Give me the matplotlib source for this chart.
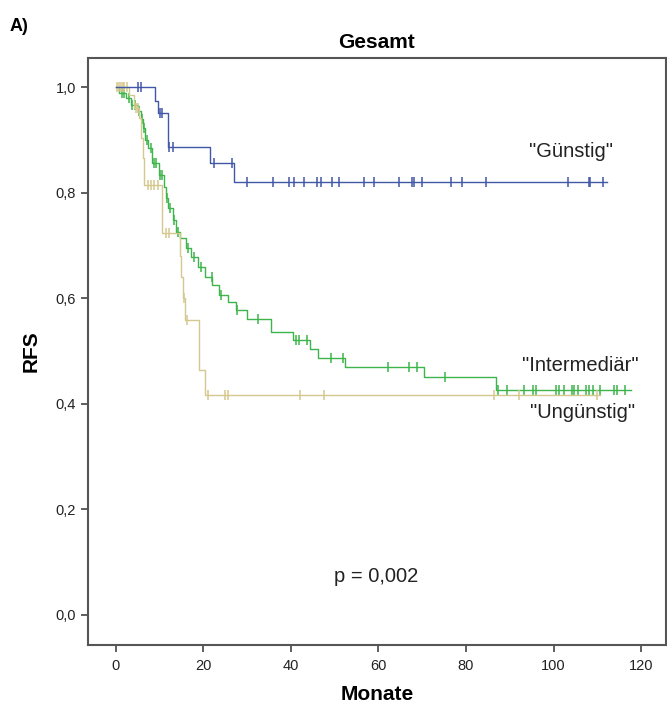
import numpy as np
import matplotlib
matplotlib.use("Agg")
import matplotlib.pyplot as plt
from matplotlib.ticker import FuncFormatter

# ---- data (months, survival) ----
blue_t = [0, 8.9, 9.6, 11.9, 21.5, 27.0]
blue_s = [1.0, 0.973, 0.951, 0.886, 0.856, 0.820]
blue_end = 112.3
blue_cens = [5.0, 5.7, 10.1, 10.6, 12.3, 13.0, 22.4, 26.5, 30.0, 36.0, 39.5, 40.7,
             42.9, 46.0, 46.8, 49.3, 51.0, 56.7, 59.1, 64.6, 67.6, 68.1, 70.0,
             76.5, 79.0, 84.5, 103.2, 108.0, 108.4, 111.2]

green_t = [0, 0.7, 2.3, 3.4, 5.0, 5.7, 6.2, 6.8, 7.4, 8.4, 9.8, 11.0, 11.4, 12.0,
           13.0, 13.7, 14.8, 16.0, 17.1, 18.9, 20.5, 22.1, 23.5, 25.6, 27.4, 30.0,
           35.4, 40.4, 44.3, 46.1, 52.3, 70.5, 86.8]
green_s = [1.0, 0.989, 0.979, 0.966, 0.955, 0.940, 0.922, 0.900, 0.884, 0.856, 0.833,
           0.811, 0.790, 0.771, 0.748, 0.725, 0.714, 0.695, 0.678, 0.659, 0.640, 0.625,
           0.606, 0.593, 0.578, 0.561, 0.536, 0.521, 0.504, 0.487, 0.470, 0.451, 0.426]
green_end = 117.6
green_cens = [1.5, 2.0, 3.0, 3.8, 4.5, 5.3, 6.0, 6.5, 7.2, 8.0, 8.8, 9.3, 10.2, 10.6,
              11.8, 12.5, 13.3, 14.2, 16.5, 18.0, 19.5, 22.0, 24.0, 27.8, 32.6, 41.1,
              41.8, 43.8, 49.1, 52.0, 62.1, 66.9, 68.9, 75.3, 87.4, 89.4, 93.2, 95.4,
              96.1, 100.5, 101.2, 102.3, 104.1, 104.6, 105.5, 107.3, 108.0, 109.1,
              110.5, 113.7, 114.6, 116.4]

tan_t = [0, 3.0, 4.1, 5.3, 5.7, 6.2, 6.4, 10.7, 14.6, 14.9, 15.3, 15.8, 19.1, 20.3]
tan_s = [1.0, 0.985, 0.960, 0.941, 0.903, 0.866, 0.814, 0.723, 0.680, 0.640, 0.600,
         0.559, 0.464, 0.417]
tan_end = 110.7
tan_cens = [0.3, 0.8, 1.2, 1.6, 2.0, 2.5, 4.6, 5.0, 7.3, 8.0, 8.7, 9.6, 11.4, 12.1,
            15.5, 16.4, 21.0, 24.9, 25.6, 42.2, 47.5, 86.5, 92.0, 110.0]

x_ticks = [0, 20, 40, 60, 80, 100, 120]
y_ticks = [0.0, 0.2, 0.4, 0.6, 0.8, 1.0]

c_blue = "#4257A8"
c_green = "#3DB54A"
c_tan = "#D5C88E"

plt.rcParams['font.family'] = ['Liberation Sans', 'DejaVu Sans']

fig = plt.figure(figsize=(6.67, 7.06), dpi=100)
ax = fig.add_axes([0.132, 0.0864, 0.866, 0.8314])


def km(ax, t, s, end, cens, color, z):
    tt = list(t) + [end]
    ss = list(s) + [s[-1]]
    ax.step(tt, ss, where='post', color=color, lw=1.0, zorder=z)
    idx = np.searchsorted(np.array(t), np.array(cens), side='right') - 1
    cs = np.array(s)[idx]
    ax.plot(cens, cs, linestyle='none', marker='|', markersize=7, mew=1.1,
            color=color, zorder=z)


km(ax, green_t, green_s, green_end, green_cens, c_green, 3)
km(ax, tan_t, tan_s, tan_end, tan_cens, c_tan, 4)
km(ax, blue_t, blue_s, blue_end, blue_cens, c_blue, 5)

ax.set_xlim(-6.3, 125.6)
ax.set_ylim(-0.057, 1.055)
ax.set_xticks(x_ticks)
ax.set_yticks(y_ticks)
ax.yaxis.set_major_formatter(FuncFormatter(lambda v, p: f"{v:.1f}".replace('.', ',')))
ax.tick_params(axis='both', direction='out', length=5, width=1.2, color='#444444',
               labelsize=10.5, labelcolor='#222222')
ax.tick_params(axis='x', pad=5)

for sp in ax.spines.values():
    sp.set_color('#555555')
    sp.set_linewidth(1.5)

ax.set_xlabel("Monate", fontsize=15, fontweight='bold', labelpad=9)
ax.set_ylabel("RFS", fontsize=15, fontweight='bold', labelpad=11)
ax.set_title("Gesamt", fontsize=15, fontweight='bold', pad=7)
fig.text(0.015, 0.962, "A)", fontsize=13, fontweight='bold', ha='left', va='center')

ax.text(103.9, 0.877, '"Günstig"', fontsize=14.5, ha='center', va='center', color='#222222')
ax.text(106.0, 0.473, '"Intermediär"', fontsize=14.5, ha='center', va='center', color='#222222')
ax.text(106.6, 0.384, '"Ungünstig"', fontsize=14.5, ha='center', va='center', color='#222222')
ax.text(59.4, 0.072, "p = 0,002", fontsize=14.5, ha='center', va='center', color='#222222')

fig.savefig("out.png", dpi=100)
